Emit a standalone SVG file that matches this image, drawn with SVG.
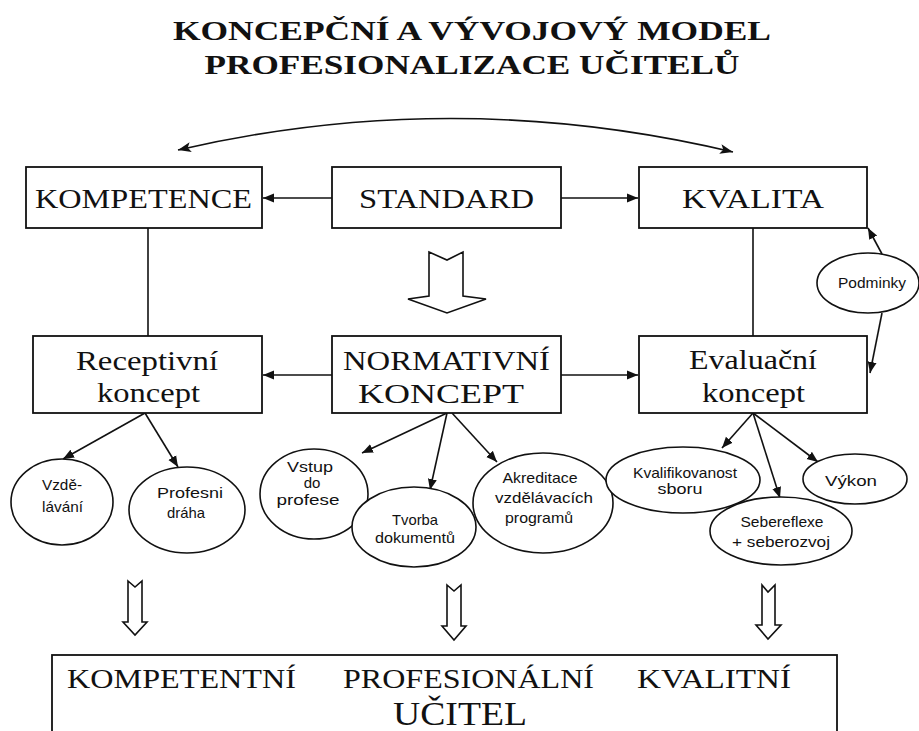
<svg xmlns="http://www.w3.org/2000/svg" width="919" height="731" viewBox="0 0 919 731">
<style>
  .box { fill: #fff; stroke: #111; stroke-width: 1.8; }
  .ell { fill: #fff; stroke: #111; stroke-width: 1.6; }
  .ln { fill: none; stroke: #111; stroke-width: 1.6; }
  .hollow { fill: #fff; stroke: #111; stroke-width: 1.6; stroke-linejoin: miter; }
  .serif { font-family: "Liberation Serif", "Times New Roman", serif; fill: #111; text-anchor: middle; }
  .title { font-family: "Liberation Serif", "Times New Roman", serif; font-weight: bold; font-size: 28px; fill: #111; text-anchor: middle; }
  .bx { font-size: 28px; }
  .sans { font-family: "Liberation Sans", Arial, sans-serif; font-size: 15px; fill: #111; text-anchor: middle; }
</style>
<defs>
  <marker id="ah" markerUnits="userSpaceOnUse" markerWidth="12" markerHeight="10" refX="11" refY="5" orient="auto-start-reverse">
    <path d="M0,0.5 L11,5 L0,9.5 Z" fill="#111"/>
  </marker>
  <marker id="ah2" markerUnits="userSpaceOnUse" markerWidth="14" markerHeight="12" refX="13" refY="6" orient="auto-start-reverse">
    <path d="M0,1 L13,6 L0,11 L3,6 Z" fill="#111"/>
  </marker>
</defs>

<g id="title">
  <text class="title" x="472" y="40" textLength="598" lengthAdjust="spacingAndGlyphs">KONCEPČNÍ A VÝVOJOVÝ MODEL</text>
  <text class="title" x="472" y="74" textLength="535" lengthAdjust="spacingAndGlyphs">PROFESIONALIZACE UČITELŮ</text>
</g>

<g id="connectors">
  <path class="ln" d="M178,150 Q455,86 733,152" marker-start="url(#ah2)" marker-end="url(#ah2)"/>
  <line class="ln" x1="332" y1="198" x2="263" y2="198" marker-end="url(#ah)"/>
  <line class="ln" x1="561" y1="198" x2="638" y2="198" marker-end="url(#ah)"/>
  <line class="ln" x1="332" y1="375" x2="263" y2="375" marker-end="url(#ah)"/>
  <line class="ln" x1="561" y1="375" x2="638" y2="375" marker-end="url(#ah)"/>
  <line class="ln" x1="148" y1="228" x2="148" y2="336"/>
  <line class="ln" x1="753" y1="228" x2="753" y2="336"/>
  <line class="ln" x1="882" y1="254" x2="868" y2="228" marker-end="url(#ah)"/>
  <line class="ln" x1="882" y1="313" x2="870" y2="373" marker-end="url(#ah)"/>
  <line class="ln" x1="145" y1="413" x2="63" y2="459" marker-end="url(#ah)"/>
  <line class="ln" x1="145" y1="413" x2="178" y2="467" marker-end="url(#ah)"/>
  <line class="ln" x1="447" y1="413" x2="362" y2="453" marker-end="url(#ah)"/>
  <line class="ln" x1="447" y1="413" x2="430" y2="490" marker-end="url(#ah)"/>
  <line class="ln" x1="452" y1="413" x2="497" y2="462" marker-end="url(#ah)"/>
  <line class="ln" x1="753" y1="413" x2="722" y2="448" marker-end="url(#ah)"/>
  <line class="ln" x1="753" y1="413" x2="780" y2="498" marker-end="url(#ah)"/>
  <line class="ln" x1="753" y1="413" x2="818" y2="462" marker-end="url(#ah)"/>
  <path class="hollow" d="M429,252 L447,260 L463,252 L463,296 L486,299 L447,313 L408,299 L429,296 Z"/>
  <path class="hollow" d="M128,581 L135,587 L142,581 L142,622 L147,622 L135,635 L123,622 L128,622 Z"/>
  <path class="hollow" d="M447,585 L454,591 L461,585 L461,626 L466,626 L454,640 L442,626 L447,626 Z"/>
  <path class="hollow" d="M762,585 L768,592 L775,585 L775,625 L781,625 L768,639 L756,625 L762,625 Z"/>
</g>

<g id="kompetence">
  <rect class="box" x="26" y="167" width="236" height="61"/>
  <text class="serif bx" x="143.5" y="208" textLength="217" lengthAdjust="spacingAndGlyphs">KOMPETENCE</text>
</g>
<g id="standard">
  <rect class="box" x="332" y="167" width="229" height="61"/>
  <text class="serif bx" x="446.5" y="208" textLength="175" lengthAdjust="spacingAndGlyphs">STANDARD</text>
</g>
<g id="kvalita">
  <rect class="box" x="639" y="167" width="228" height="61"/>
  <text class="serif bx" x="753" y="208" textLength="142" lengthAdjust="spacingAndGlyphs">KVALITA</text>
</g>
<g id="podminky">
  <ellipse class="ell" cx="868" cy="283" rx="51" ry="30"/>
  <text class="sans" x="872" y="288" textLength="68" lengthAdjust="spacingAndGlyphs">Podminky</text>
</g>
<g id="receptivni">
  <rect class="box" x="33" y="336" width="229" height="77"/>
  <text class="serif bx" x="147" y="370" textLength="142" lengthAdjust="spacingAndGlyphs">Receptivní</text>
  <text class="serif bx" x="148.5" y="402" textLength="103" lengthAdjust="spacingAndGlyphs">koncept</text>
</g>
<g id="normativni">
  <rect class="box" x="332" y="336" width="229" height="77"/>
  <text class="serif bx" x="446.5" y="370" textLength="207" lengthAdjust="spacingAndGlyphs">NORMATIVNÍ</text>
  <text class="serif bx" x="441" y="403" textLength="166" lengthAdjust="spacingAndGlyphs">KONCEPT</text>
</g>
<g id="evaluacni">
  <rect class="box" x="639" y="336" width="228" height="77"/>
  <text class="serif bx" x="753" y="369" textLength="128" lengthAdjust="spacingAndGlyphs">Evaluační</text>
  <text class="serif bx" x="753.5" y="402" textLength="103" lengthAdjust="spacingAndGlyphs">koncept</text>
</g>
<g id="vzdelavani">
  <ellipse class="ell" cx="62" cy="502" rx="51" ry="43"/>
  <text class="sans" x="62" y="490" textLength="40" lengthAdjust="spacingAndGlyphs">Vzdě-</text>
  <text class="sans" x="62.5" y="512" textLength="41" lengthAdjust="spacingAndGlyphs">lávání</text>
</g>
<g id="profesni-draha">
  <ellipse class="ell" cx="187" cy="510" rx="58" ry="43"/>
  <text class="sans" x="190" y="498" textLength="66" lengthAdjust="spacingAndGlyphs">Profesni</text>
  <text class="sans" x="186" y="518" textLength="38" lengthAdjust="spacingAndGlyphs">dráha</text>
</g>
<g id="vstup">
  <ellipse class="ell" cx="314" cy="494" rx="54" ry="45"/>
  <text class="sans" x="310" y="472" textLength="46" lengthAdjust="spacingAndGlyphs">Vstup</text>
  <text class="sans" x="312" y="488">do</text>
  <text class="sans" x="308" y="505" textLength="63" lengthAdjust="spacingAndGlyphs">profese</text>
</g>
<g id="tvorba">
  <ellipse class="ell" cx="414" cy="527" rx="62" ry="40"/>
  <text class="sans" x="415" y="525" textLength="46" lengthAdjust="spacingAndGlyphs">Tvorba</text>
  <text class="sans" x="415" y="543" textLength="80" lengthAdjust="spacingAndGlyphs">dokumentů</text>
</g>
<g id="akreditace">
  <ellipse class="ell" cx="543" cy="503" rx="70" ry="50"/>
  <text class="sans" x="540" y="483" textLength="75" lengthAdjust="spacingAndGlyphs">Akreditace</text>
  <text class="sans" x="544" y="503" textLength="98" lengthAdjust="spacingAndGlyphs">vzdělávacích</text>
  <text class="sans" x="539" y="523" textLength="68" lengthAdjust="spacingAndGlyphs">programů</text>
</g>
<g id="kvalifikovanost">
  <ellipse class="ell" cx="683" cy="480" rx="77" ry="33"/>
  <text class="sans" x="685" y="478" textLength="104" lengthAdjust="spacingAndGlyphs">Kvalifikovanost</text>
  <text class="sans" x="680" y="494" textLength="45" lengthAdjust="spacingAndGlyphs">sboru</text>
</g>
<g id="vykon">
  <ellipse class="ell" cx="855" cy="479" rx="52" ry="25"/>
  <text class="sans" x="851" y="486" textLength="52" lengthAdjust="spacingAndGlyphs">Výkon</text>
</g>
<g id="sebereflexe">
  <ellipse class="ell" cx="781" cy="531" rx="71" ry="34"/>
  <text class="sans" x="782" y="527" textLength="83" lengthAdjust="spacingAndGlyphs">Sebereflexe</text>
  <text class="sans" x="781" y="547" textLength="98" lengthAdjust="spacingAndGlyphs">+  seberozvoj</text>
</g>
<g id="ucitel">
  <rect class="box" x="52" y="655" width="785" height="90"/>
  <text class="serif" font-size="27" x="181.5" y="688" textLength="229" lengthAdjust="spacingAndGlyphs">KOMPETENTNÍ</text>
  <text class="serif" font-size="27" x="468.5" y="688" textLength="251" lengthAdjust="spacingAndGlyphs">PROFESIONÁLNÍ</text>
  <text class="serif" font-size="27" x="714" y="688" textLength="154" lengthAdjust="spacingAndGlyphs">KVALITNÍ</text>
  <text class="serif" font-size="33" x="460" y="725" textLength="134" lengthAdjust="spacingAndGlyphs">UČITEL</text>
</g>
</svg>
